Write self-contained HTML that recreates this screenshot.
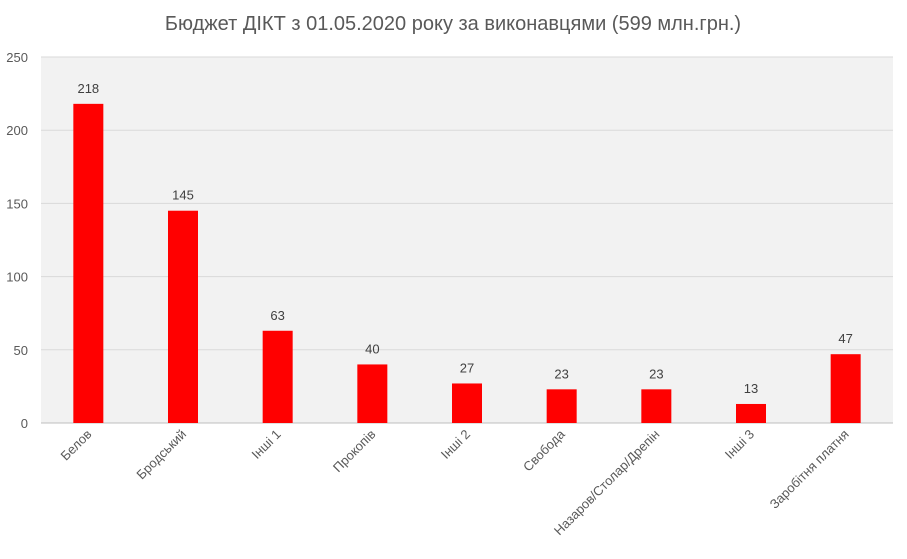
<!DOCTYPE html>
<html><head><meta charset="utf-8"><style>
body{margin:0;background:#fff;}
svg{display:block;font-family:"Liberation Sans","DejaVu Sans",sans-serif;}
</style></head><body>
<svg id="chart" width="907" height="559" viewBox="0 0 907 559">
<text x="453" y="30" text-anchor="middle" font-size="20" fill="#595959">Бюджет ДІКТ з 01.05.2020 року за виконавцями (599 млн.грн.)</text>
<rect x="41" y="57" width="852" height="366" fill="#f2f2f2"/>
<g id="grid"></g><g id="bars"></g><g id="labels"></g>
</svg>
<script>
const categories=["Белов","Бродський","Інші 1","Прокопів","Інші 2","Свобода","Назаров/Столар/Дрепін","Інші 3","Заробітня платня"];
const values=[218,145,63,40,27,23,23,13,47];
const ticks=[0,50,100,150,200,250];
const NS="http://www.w3.org/2000/svg";
const L=41,R=893,T=57,B=423,maxV=250;
const y=v=>B-(v/maxV)*(B-T);
const bw=(R-L)/categories.length;
const x=i=>L+bw*(i+0.5);
function mk(t,a,p){const e=document.createElementNS(NS,t);for(const k in a)e.setAttribute(k,a[k]);p.appendChild(e);return e;}
const g=document.getElementById('grid'),bg=document.getElementById('bars'),lg=document.getElementById('labels');
ticks.forEach(t=>{
 const ln=mk('line',{x1:L,x2:R,y1:y(t),y2:y(t),stroke:t===0?'#bfbfbf':'#d9d9d9','stroke-width':1},g);
 
 
 const tx=mk('text',{x:28,y:y(t)+5,'text-anchor':'end','font-size':13,fill:'#595959'},g);
 tx.textContent=t;
 
 
});
categories.forEach((c,i)=>{
 const cx=x(i),w=30;
 const r=mk('rect',{x:cx-w/2,y:y(values[i]),width:w,height:B-y(values[i]),fill:'#ff0000'},bg);
 
 
 const v=mk('text',{x:cx,y:y(values[i])-11,'text-anchor':'middle','font-size':13,fill:'#404040'},lg);
 v.textContent=values[i];
 
 
 const cl=mk('text',{x:cx+4,y:B+12,'text-anchor':'end','font-size':13,fill:'#595959',transform:`rotate(-45 ${cx+4} ${B+12})`},lg);
 cl.textContent=c;
 
 
});
</script>
</body></html>
